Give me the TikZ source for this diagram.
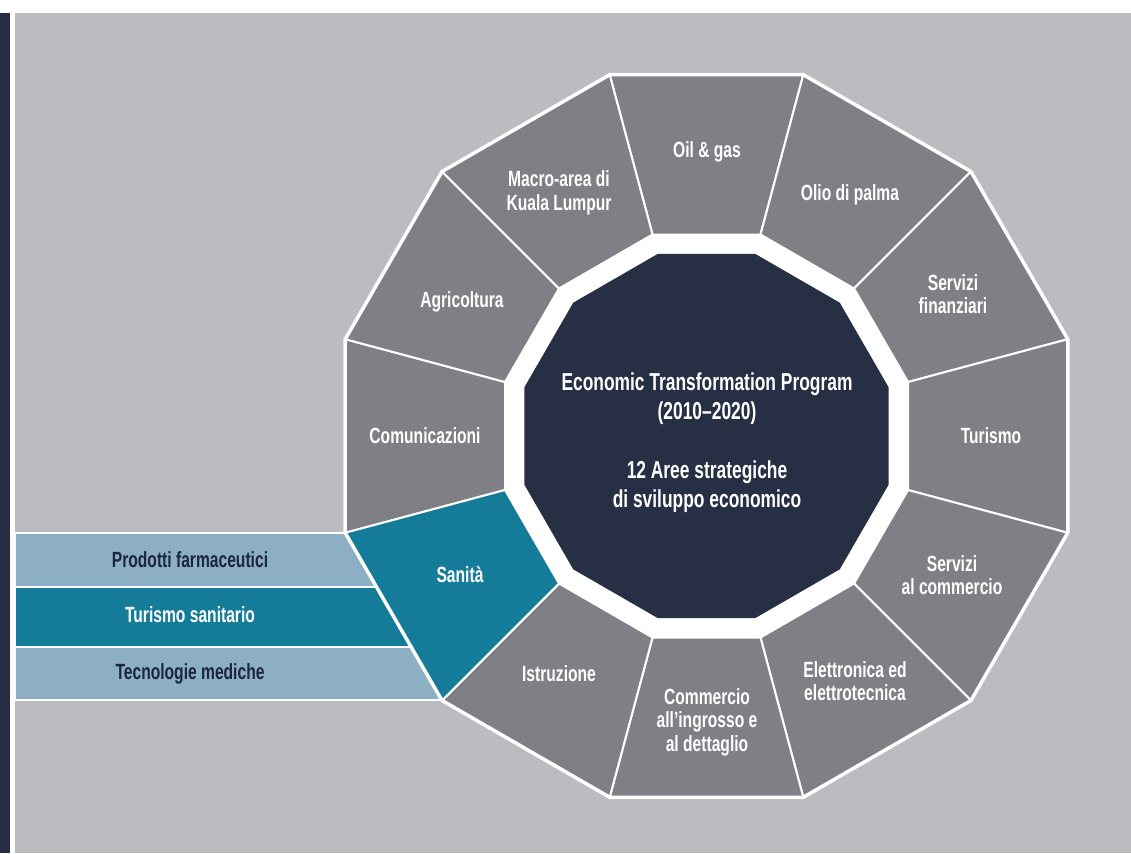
\documentclass[tikz,border=0pt]{standalone}
\usepackage{fontspec}
\setmainfont{Liberation Sans}[FakeStretch=0.71]

\definecolor{fondo}{HTML}{BBBCC0}
\definecolor{grigio}{HTML}{7F8085}
\definecolor{notte}{HTML}{272F45}
\definecolor{striscia}{HTML}{252D45}
\definecolor{petrolio}{HTML}{147C99}
\definecolor{celeste}{HTML}{8CAFC4}
\definecolor{scritta}{HTML}{1C2541}

\def\Rest{374}
\def\Rint{208.6}
\def\Rcen{188.5}

\begin{document}
\begin{tikzpicture}[x=1pt,y=-1pt]
\tikzstyle{spicchio}=[fill=grigio,draw=white,line width=2pt,line join=miter]
\tikzstyle{etichetta}=[text=white,align=center,font=\bfseries\fontsize{22}{23.5}\selectfont]
\tikzstyle{centrale}=[text=white,align=center,font=\bfseries\fontsize{24.5}{29}\selectfont]
\tikzstyle{banda}=[draw=white,line width=2pt]
\tikzstyle{voce}=[anchor=base,font=\bfseries\fontsize{22}{23.5}\selectfont]

\useasboundingbox (0,0) rectangle (1131,853);
\fill[white] (0,0) rectangle (1131,853);
\fill[striscia] (0,13) rectangle (10,853);
\fill[fondo] (15,13) rectangle (1131,853);

% bande della sanita
\draw[banda,fill=celeste] (15,533) rectangle (450,587);
\draw[banda,fill=petrolio] (15,587) rectangle (450,647);
\draw[banda,fill=celeste] (15,647) rectangle (450,700);

\node[voce,text=scritta] (farmaci) at (190,567) {Prodotti farmaceutici};
\node[voce,text=white] (turismosan) at (190,622) {Turismo sanitario};
\node[voce,text=scritta] (tecnologie) at (190,679) {Tecnologie mediche};

% corona dei 12 settori
\begin{scope}[shift={(706.5,436)},yscale=-1]
\foreach \a in {90,60,...,-240}
  \draw[spicchio] (\a+15:\Rest) -- (\a-15:\Rest) -- (\a-15:\Rint) -- (\a+15:\Rint) -- cycle;
\draw[spicchio,fill=petrolio] (-135:\Rest) -- (-165:\Rest) -- (-165:\Rint) -- (-135:\Rint) -- cycle;
\draw[white,line width=3.5pt,line join=miter] (15:\Rest) \foreach \a in {45,75,...,345} { -- (\a:\Rest) } -- cycle;
\fill[white] (15:\Rint) \foreach \a in {45,75,...,345} { -- (\a:\Rint) } -- cycle;
\fill[notte] (15:\Rcen) \foreach \a in {45,75,...,345} { -- (\a:\Rcen) } -- cycle;
\end{scope}

\node[centrale] (etp) at (707,443) {Economic Transformation Program\\(2010--2020)\\[30pt]12 Aree strategiche\\di sviluppo economico};

\node[etichetta] (oil) at (707,152) {Oil \& gas};
\node[etichetta] (palma) at (850,194.5) {Olio di palma};
\node[etichetta] (finanza) at (953,294) {Servizi\\finanziari};
\node[etichetta] (turismo) at (991,436) {Turismo};
\node[etichetta] (commercio) at (952,575) {Servizi\\al commercio};
\node[etichetta] (elettronica) at (855,681) {Elettronica ed\\elettrotecnica};
\node[etichetta] (ingrosso) at (707,722) {Commercio\\all'ingrosso e\\al dettaglio};
\node[etichetta] (istruzione) at (559,674) {Istruzione};
\node[etichetta] (sanita) at (460,575) {Sanità};
\node[etichetta] (comunicazioni) at (425,436) {Comunicazioni};
\node[etichetta] (agricoltura) at (462,302) {Agricoltura};
\node[etichetta] (macro) at (559,193) {Macro-area di\\Kuala Lumpur};

\end{tikzpicture}
\end{document}
